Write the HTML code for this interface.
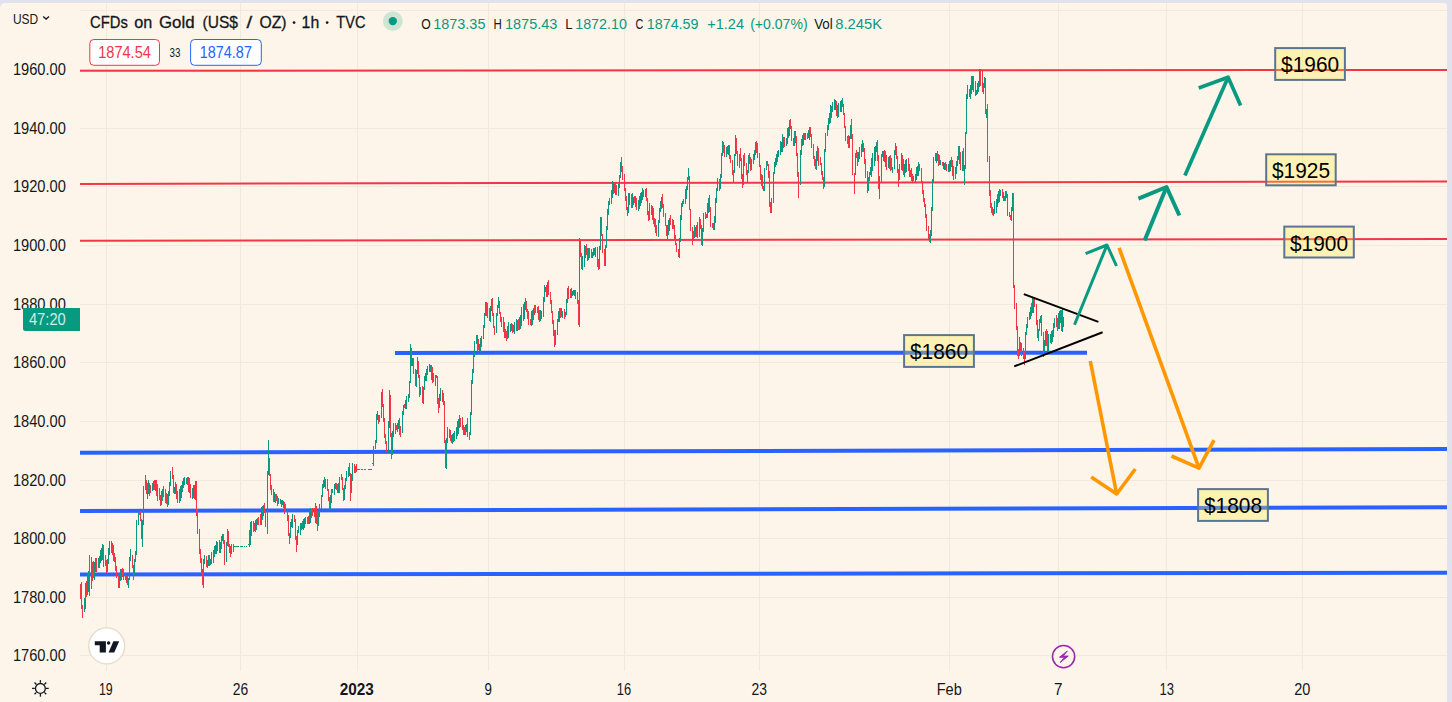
<!DOCTYPE html>
<html><head><meta charset="utf-8"><title>chart</title>
<style>
html,body{margin:0;padding:0;}
body{width:1452px;height:702px;overflow:hidden;background:#e0e3eb;font-family:"Liberation Sans", sans-serif;}
#chart{position:absolute;left:0;top:3px;width:1447px;height:699px;background:#fdf5e9;border-radius:5px 3px 0 0;}
svg{position:absolute;left:0;top:0;font-family:"Liberation Sans", sans-serif;}
</style></head><body>
<div id="chart"></div>
<svg width="1452" height="702" viewBox="0 0 1452 702">
<g shape-rendering="crispEdges" fill="#f1e9dc">
<rect x="80" y="10" width="1367" height="1"/>
<rect x="80" y="69" width="1367" height="1"/>
<rect x="80" y="128" width="1367" height="1"/>
<rect x="80" y="186" width="1367" height="1"/>
<rect x="80" y="245" width="1367" height="1"/>
<rect x="80" y="304" width="1367" height="1"/>
<rect x="80" y="362" width="1367" height="1"/>
<rect x="80" y="421" width="1367" height="1"/>
<rect x="80" y="480" width="1367" height="1"/>
<rect x="80" y="538" width="1367" height="1"/>
<rect x="80" y="597" width="1367" height="1"/>
<rect x="80" y="655" width="1367" height="1"/>
<rect x="106" y="3" width="1" height="668"/>
<rect x="240" y="3" width="1" height="668"/>
<rect x="357" y="3" width="1" height="668"/>
<rect x="488" y="3" width="1" height="668"/>
<rect x="624" y="3" width="1" height="668"/>
<rect x="759" y="3" width="1" height="668"/>
<rect x="949" y="3" width="1" height="668"/>
<rect x="1058" y="3" width="1" height="668"/>
<rect x="1166" y="3" width="1" height="668"/>
<rect x="1302" y="3" width="1" height="668"/>
</g>
<line x1="80" y1="70.8" x2="1447" y2="69.9" stroke="#f23645" stroke-width="2" stroke-linecap="butt"/>
<line x1="80" y1="183.9" x2="1447" y2="181.4" stroke="#f23645" stroke-width="2" stroke-linecap="butt"/>
<line x1="80" y1="240.8" x2="1447" y2="238.9" stroke="#f23645" stroke-width="2" stroke-linecap="butt"/>
<line x1="80" y1="452.8" x2="1447" y2="449.0" stroke="#2962ff" stroke-width="4" stroke-linecap="butt"/>
<line x1="80" y1="511.1" x2="1447" y2="507.3" stroke="#2962ff" stroke-width="4" stroke-linecap="butt"/>
<line x1="80" y1="574.6" x2="1447" y2="572.8" stroke="#2962ff" stroke-width="4" stroke-linecap="butt"/>
<line x1="395" y1="352.9" x2="1087" y2="352.7" stroke="#2962ff" stroke-width="4" stroke-linecap="butt"/>
<g shape-rendering="crispEdges">
<rect x="80" y="584.0" width="1" height="14.5" fill="#f23645"/>
<rect x="81" y="582.2" width="1" height="26.9" fill="#f23645"/>
<rect x="82" y="604.6" width="1" height="12.9" fill="#f23645"/>
<rect x="84" y="598.1" width="1" height="13.5" fill="#089981"/>
<rect x="85" y="582.5" width="1" height="26.8" fill="#089981"/>
<rect x="86" y="580.5" width="1" height="16.7" fill="#f23645"/>
<rect x="87" y="573.4" width="1" height="21.5" fill="#089981"/>
<rect x="88" y="571.4" width="1" height="20.1" fill="#089981"/>
<rect x="89" y="555.4" width="1" height="40.4" fill="#f23645"/>
<rect x="91" y="557.1" width="1" height="31.9" fill="#089981"/>
<rect x="92" y="561.8" width="1" height="18.8" fill="#f23645"/>
<rect x="93" y="561.3" width="1" height="16.7" fill="#f23645"/>
<rect x="94" y="561.6" width="1" height="18.3" fill="#089981"/>
<rect x="95" y="557.7" width="1" height="13.8" fill="#089981"/>
<rect x="96" y="557.8" width="1" height="13.8" fill="#f23645"/>
<rect x="98" y="557.6" width="1" height="10.1" fill="#089981"/>
<rect x="99" y="555.5" width="1" height="12.4" fill="#089981"/>
<rect x="100" y="549.8" width="1" height="12.8" fill="#089981"/>
<rect x="101" y="547.9" width="1" height="13.5" fill="#089981"/>
<rect x="102" y="544.4" width="1" height="15.8" fill="#089981"/>
<rect x="103" y="544.8" width="1" height="22.0" fill="#f23645"/>
<rect x="105" y="555.2" width="1" height="11.1" fill="#f23645"/>
<rect x="106" y="560.1" width="1" height="12.5" fill="#f23645"/>
<rect x="107" y="559.3" width="1" height="12.8" fill="#089981"/>
<rect x="108" y="547.7" width="1" height="16.3" fill="#089981"/>
<rect x="109" y="541.0" width="1" height="13.7" fill="#089981"/>
<rect x="111" y="540.6" width="1" height="12.0" fill="#f23645"/>
<rect x="112" y="543.4" width="1" height="11.3" fill="#f23645"/>
<rect x="113" y="545.1" width="1" height="16.0" fill="#f23645"/>
<rect x="114" y="553.3" width="1" height="8.2" fill="#f23645"/>
<rect x="115" y="557.2" width="1" height="13.7" fill="#f23645"/>
<rect x="116" y="566.3" width="1" height="11.9" fill="#f23645"/>
<rect x="118" y="575.0" width="1" height="13.2" fill="#f23645"/>
<rect x="119" y="573.0" width="1" height="14.7" fill="#089981"/>
<rect x="120" y="569.1" width="1" height="12.0" fill="#089981"/>
<rect x="121" y="569.0" width="1" height="11.2" fill="#f23645"/>
<rect x="122" y="567.6" width="1" height="9.1" fill="#f23645"/>
<rect x="123" y="569.4" width="1" height="10.8" fill="#f23645"/>
<rect x="125" y="573.2" width="1" height="6.7" fill="#089981"/>
<rect x="126" y="574.9" width="1" height="7.7" fill="#f23645"/>
<rect x="127" y="576.3" width="1" height="9.0" fill="#f23645"/>
<rect x="128" y="578.3" width="1" height="10.0" fill="#089981"/>
<rect x="129" y="556.8" width="1" height="23.3" fill="#089981"/>
<rect x="130" y="548.7" width="1" height="12.6" fill="#089981"/>
<rect x="132" y="555.4" width="1" height="12.1" fill="#f23645"/>
<rect x="133" y="565.1" width="1" height="14.5" fill="#f23645"/>
<rect x="134" y="558.8" width="1" height="16.4" fill="#089981"/>
<rect x="135" y="550.6" width="1" height="11.3" fill="#089981"/>
<rect x="136" y="520.0" width="1" height="35.3" fill="#089981"/>
<rect x="138" y="512.7" width="1" height="12.1" fill="#089981"/>
<rect x="139" y="510.6" width="1" height="4.7" fill="#f23645"/>
<rect x="140" y="510.9" width="1" height="10.3" fill="#f23645"/>
<rect x="141" y="518.5" width="1" height="20.6" fill="#f23645"/>
<rect x="142" y="520.2" width="1" height="26.7" fill="#089981"/>
<rect x="143" y="485.8" width="1" height="39.1" fill="#089981"/>
<rect x="145" y="474.6" width="1" height="14.9" fill="#089981"/>
<rect x="146" y="479.9" width="1" height="13.9" fill="#f23645"/>
<rect x="147" y="482.7" width="1" height="15.8" fill="#089981"/>
<rect x="148" y="480.2" width="1" height="13.8" fill="#089981"/>
<rect x="149" y="482.7" width="1" height="13.4" fill="#f23645"/>
<rect x="150" y="485.3" width="1" height="7.4" fill="#f23645"/>
<rect x="152" y="483.1" width="1" height="8.0" fill="#089981"/>
<rect x="153" y="481.4" width="1" height="8.6" fill="#089981"/>
<rect x="154" y="480.1" width="1" height="10.1" fill="#f23645"/>
<rect x="155" y="479.8" width="1" height="11.1" fill="#089981"/>
<rect x="156" y="479.8" width="1" height="16.5" fill="#f23645"/>
<rect x="157" y="483.8" width="1" height="16.9" fill="#f23645"/>
<rect x="159" y="488.1" width="1" height="11.6" fill="#f23645"/>
<rect x="160" y="494.7" width="1" height="11.1" fill="#f23645"/>
<rect x="161" y="491.2" width="1" height="14.0" fill="#089981"/>
<rect x="162" y="488.6" width="1" height="12.5" fill="#089981"/>
<rect x="163" y="485.9" width="1" height="10.9" fill="#f23645"/>
<rect x="165" y="488.5" width="1" height="14.8" fill="#f23645"/>
<rect x="166" y="492.6" width="1" height="11.6" fill="#f23645"/>
<rect x="167" y="493.9" width="1" height="12.6" fill="#f23645"/>
<rect x="168" y="491.1" width="1" height="14.0" fill="#089981"/>
<rect x="169" y="481.7" width="1" height="14.7" fill="#089981"/>
<rect x="170" y="470.8" width="1" height="14.9" fill="#089981"/>
<rect x="172" y="466.5" width="1" height="12.2" fill="#f23645"/>
<rect x="173" y="475.1" width="1" height="17.9" fill="#f23645"/>
<rect x="174" y="487.1" width="1" height="7.2" fill="#089981"/>
<rect x="175" y="481.7" width="1" height="12.4" fill="#089981"/>
<rect x="176" y="483.6" width="1" height="15.4" fill="#f23645"/>
<rect x="177" y="490.6" width="1" height="12.4" fill="#f23645"/>
<rect x="179" y="489.3" width="1" height="13.2" fill="#089981"/>
<rect x="180" y="485.9" width="1" height="15.0" fill="#089981"/>
<rect x="181" y="484.8" width="1" height="13.1" fill="#089981"/>
<rect x="182" y="480.5" width="1" height="11.8" fill="#089981"/>
<rect x="183" y="478.3" width="1" height="10.1" fill="#089981"/>
<rect x="184" y="476.8" width="1" height="8.6" fill="#089981"/>
<rect x="186" y="478.3" width="1" height="6.1" fill="#089981"/>
<rect x="187" y="477.4" width="1" height="7.8" fill="#089981"/>
<rect x="188" y="477.0" width="1" height="15.0" fill="#f23645"/>
<rect x="189" y="478.1" width="1" height="14.8" fill="#f23645"/>
<rect x="190" y="483.8" width="1" height="13.8" fill="#f23645"/>
<rect x="192" y="487.5" width="1" height="11.0" fill="#089981"/>
<rect x="193" y="484.9" width="1" height="13.5" fill="#089981"/>
<rect x="194" y="485.1" width="1" height="14.0" fill="#f23645"/>
<rect x="195" y="480.8" width="1" height="19.5" fill="#089981"/>
<rect x="196" y="480.8" width="1" height="35.0" fill="#f23645"/>
<rect x="197" y="509.0" width="1" height="25.2" fill="#f23645"/>
<rect x="199" y="529.2" width="1" height="24.6" fill="#f23645"/>
<rect x="200" y="549.3" width="1" height="13.3" fill="#f23645"/>
<rect x="201" y="558.1" width="1" height="15.5" fill="#f23645"/>
<rect x="202" y="569.4" width="1" height="15.2" fill="#f23645"/>
<rect x="203" y="559.2" width="1" height="28.6" fill="#089981"/>
<rect x="204" y="554.9" width="1" height="9.0" fill="#089981"/>
<rect x="206" y="555.9" width="1" height="11.3" fill="#f23645"/>
<rect x="207" y="560.4" width="1" height="7.4" fill="#089981"/>
<rect x="208" y="554.8" width="1" height="11.4" fill="#089981"/>
<rect x="209" y="554.9" width="1" height="11.1" fill="#f23645"/>
<rect x="210" y="559.3" width="1" height="5.6" fill="#089981"/>
<rect x="211" y="552.2" width="1" height="11.7" fill="#089981"/>
<rect x="213" y="550.2" width="1" height="12.4" fill="#089981"/>
<rect x="214" y="545.5" width="1" height="11.7" fill="#089981"/>
<rect x="215" y="544.7" width="1" height="9.6" fill="#089981"/>
<rect x="216" y="540.9" width="1" height="13.3" fill="#089981"/>
<rect x="217" y="541.5" width="1" height="9.0" fill="#f23645"/>
<rect x="219" y="539.8" width="1" height="13.4" fill="#f23645"/>
<rect x="220" y="542.0" width="1" height="11.0" fill="#089981"/>
<rect x="221" y="536.4" width="1" height="12.4" fill="#089981"/>
<rect x="222" y="533.7" width="1" height="7.3" fill="#089981"/>
<rect x="223" y="534.2" width="1" height="10.2" fill="#f23645"/>
<rect x="224" y="539.7" width="1" height="25.2" fill="#f23645"/>
<rect x="226" y="542.0" width="1" height="19.9" fill="#089981"/>
<rect x="227" y="529.2" width="1" height="16.3" fill="#089981"/>
<rect x="228" y="531.3" width="1" height="15.5" fill="#f23645"/>
<rect x="229" y="543.8" width="1" height="8.8" fill="#f23645"/>
<rect x="230" y="546.4" width="1" height="10.4" fill="#f23645"/>
<rect x="231" y="543.5" width="1" height="10.7" fill="#089981"/>
<rect x="233" y="543.7" width="1" height="7.8" fill="#f23645"/>
<rect x="234" y="545.5" width="1" height="1.0" fill="#089981"/>
<rect x="235" y="545.5" width="1" height="1.0" fill="#089981"/>
<rect x="236" y="545.5" width="1" height="1.0" fill="#089981"/>
<rect x="237" y="545.5" width="1" height="1.0" fill="#089981"/>
<rect x="238" y="545.5" width="1" height="1.0" fill="#089981"/>
<rect x="240" y="545.5" width="1" height="1.0" fill="#089981"/>
<rect x="241" y="545.5" width="1" height="1.0" fill="#089981"/>
<rect x="242" y="545.5" width="1" height="1.0" fill="#089981"/>
<rect x="244" y="545.5" width="1" height="1.0" fill="#089981"/>
<rect x="246" y="545.5" width="1" height="1.0" fill="#089981"/>
<rect x="248" y="544.1" width="1" height="1.0" fill="#089981"/>
<rect x="249" y="529.8" width="1" height="17.6" fill="#089981"/>
<rect x="250" y="522.0" width="1" height="23.1" fill="#089981"/>
<rect x="251" y="520.7" width="1" height="14.9" fill="#089981"/>
<rect x="253" y="521.2" width="1" height="11.2" fill="#f23645"/>
<rect x="254" y="523.2" width="1" height="7.5" fill="#f23645"/>
<rect x="255" y="520.3" width="1" height="11.4" fill="#089981"/>
<rect x="256" y="518.5" width="1" height="11.5" fill="#089981"/>
<rect x="257" y="517.5" width="1" height="7.4" fill="#f23645"/>
<rect x="258" y="517.0" width="1" height="8.4" fill="#f23645"/>
<rect x="260" y="513.5" width="1" height="11.5" fill="#f23645"/>
<rect x="261" y="507.1" width="1" height="17.7" fill="#089981"/>
<rect x="262" y="505.7" width="1" height="14.4" fill="#089981"/>
<rect x="263" y="505.2" width="1" height="11.0" fill="#089981"/>
<rect x="264" y="503.0" width="1" height="10.4" fill="#f23645"/>
<rect x="265" y="510.9" width="1" height="16.3" fill="#f23645"/>
<rect x="267" y="471.4" width="1" height="62.4" fill="#089981"/>
<rect x="268" y="440.4" width="1" height="35.0" fill="#089981"/>
<rect x="269" y="457.9" width="1" height="18.5" fill="#f23645"/>
<rect x="270" y="473.5" width="1" height="16.3" fill="#f23645"/>
<rect x="271" y="484.6" width="1" height="10.2" fill="#f23645"/>
<rect x="273" y="488.7" width="1" height="13.7" fill="#f23645"/>
<rect x="274" y="492.0" width="1" height="9.8" fill="#089981"/>
<rect x="275" y="494.4" width="1" height="8.4" fill="#089981"/>
<rect x="276" y="493.9" width="1" height="7.4" fill="#f23645"/>
<rect x="277" y="495.7" width="1" height="9.8" fill="#f23645"/>
<rect x="278" y="497.7" width="1" height="5.8" fill="#089981"/>
<rect x="280" y="498.6" width="1" height="5.2" fill="#089981"/>
<rect x="281" y="500.3" width="1" height="6.2" fill="#f23645"/>
<rect x="282" y="500.2" width="1" height="5.2" fill="#089981"/>
<rect x="283" y="500.8" width="1" height="7.1" fill="#f23645"/>
<rect x="284" y="501.8" width="1" height="11.9" fill="#f23645"/>
<rect x="285" y="504.4" width="1" height="7.6" fill="#f23645"/>
<rect x="287" y="510.2" width="1" height="10.6" fill="#f23645"/>
<rect x="288" y="514.5" width="1" height="21.0" fill="#f23645"/>
<rect x="289" y="533.0" width="1" height="10.7" fill="#f23645"/>
<rect x="290" y="522.0" width="1" height="16.3" fill="#089981"/>
<rect x="291" y="518.8" width="1" height="8.2" fill="#089981"/>
<rect x="292" y="514.2" width="1" height="13.6" fill="#089981"/>
<rect x="294" y="515.0" width="1" height="7.2" fill="#f23645"/>
<rect x="295" y="519.3" width="1" height="20.9" fill="#f23645"/>
<rect x="296" y="536.3" width="1" height="15.6" fill="#f23645"/>
<rect x="297" y="529.5" width="1" height="15.4" fill="#089981"/>
<rect x="298" y="525.7" width="1" height="7.5" fill="#089981"/>
<rect x="300" y="523.2" width="1" height="12.2" fill="#089981"/>
<rect x="301" y="523.2" width="1" height="6.4" fill="#f23645"/>
<rect x="302" y="520.5" width="1" height="8.6" fill="#089981"/>
<rect x="303" y="519.0" width="1" height="10.5" fill="#089981"/>
<rect x="304" y="517.9" width="1" height="9.8" fill="#089981"/>
<rect x="305" y="517.4" width="1" height="7.0" fill="#089981"/>
<rect x="307" y="517.4" width="1" height="6.5" fill="#f23645"/>
<rect x="308" y="515.7" width="1" height="8.3" fill="#f23645"/>
<rect x="309" y="510.8" width="1" height="12.8" fill="#089981"/>
<rect x="310" y="507.6" width="1" height="15.5" fill="#089981"/>
<rect x="311" y="509.1" width="1" height="9.2" fill="#f23645"/>
<rect x="312" y="508.0" width="1" height="8.0" fill="#f23645"/>
<rect x="314" y="507.5" width="1" height="9.4" fill="#f23645"/>
<rect x="315" y="503.3" width="1" height="19.2" fill="#089981"/>
<rect x="316" y="505.6" width="1" height="18.7" fill="#f23645"/>
<rect x="317" y="511.9" width="1" height="18.7" fill="#f23645"/>
<rect x="318" y="511.0" width="1" height="15.4" fill="#089981"/>
<rect x="319" y="504.1" width="1" height="12.5" fill="#089981"/>
<rect x="321" y="494.7" width="1" height="14.2" fill="#089981"/>
<rect x="322" y="483.8" width="1" height="12.8" fill="#089981"/>
<rect x="323" y="479.9" width="1" height="8.0" fill="#089981"/>
<rect x="324" y="476.8" width="1" height="10.1" fill="#089981"/>
<rect x="325" y="478.5" width="1" height="10.1" fill="#f23645"/>
<rect x="327" y="478.8" width="1" height="12.6" fill="#f23645"/>
<rect x="328" y="489.0" width="1" height="11.9" fill="#f23645"/>
<rect x="329" y="496.8" width="1" height="13.5" fill="#f23645"/>
<rect x="330" y="494.6" width="1" height="15.7" fill="#089981"/>
<rect x="331" y="489.2" width="1" height="14.1" fill="#089981"/>
<rect x="332" y="488.7" width="1" height="3.9" fill="#089981"/>
<rect x="334" y="484.1" width="1" height="10.6" fill="#089981"/>
<rect x="335" y="482.7" width="1" height="6.4" fill="#089981"/>
<rect x="336" y="482.7" width="1" height="7.2" fill="#f23645"/>
<rect x="337" y="484.0" width="1" height="8.6" fill="#f23645"/>
<rect x="338" y="482.5" width="1" height="10.5" fill="#089981"/>
<rect x="339" y="477.0" width="1" height="15.9" fill="#089981"/>
<rect x="341" y="473.8" width="1" height="6.4" fill="#f23645"/>
<rect x="342" y="476.7" width="1" height="13.3" fill="#f23645"/>
<rect x="343" y="488.2" width="1" height="13.1" fill="#f23645"/>
<rect x="344" y="484.9" width="1" height="15.1" fill="#089981"/>
<rect x="345" y="478.2" width="1" height="11.1" fill="#089981"/>
<rect x="346" y="471.1" width="1" height="10.3" fill="#089981"/>
<rect x="348" y="467.1" width="1" height="9.4" fill="#089981"/>
<rect x="349" y="463.3" width="1" height="12.9" fill="#f23645"/>
<rect x="350" y="472.9" width="1" height="27.9" fill="#f23645"/>
<rect x="351" y="474.2" width="1" height="18.5" fill="#089981"/>
<rect x="352" y="463.3" width="1" height="17.3" fill="#089981"/>
<rect x="354" y="464.4" width="1" height="8.5" fill="#f23645"/>
<rect x="355" y="465.7" width="1" height="7.2" fill="#f23645"/>
<rect x="356" y="463.7" width="1" height="8.6" fill="#f23645"/>
<rect x="357" y="468.7" width="1" height="1.0" fill="#089981"/>
<rect x="358" y="468.7" width="1" height="1.0" fill="#089981"/>
<rect x="359" y="468.7" width="1" height="1.0" fill="#089981"/>
<rect x="361" y="468.7" width="1" height="1.0" fill="#089981"/>
<rect x="362" y="468.7" width="1" height="1.0" fill="#089981"/>
<rect x="364" y="468.7" width="1" height="1.0" fill="#089981"/>
<rect x="365" y="468.7" width="1" height="1.0" fill="#089981"/>
<rect x="368" y="468.7" width="1" height="1.0" fill="#089981"/>
<rect x="369" y="468.7" width="1" height="1.0" fill="#089981"/>
<rect x="370" y="468.7" width="1" height="1.0" fill="#089981"/>
<rect x="371" y="468.7" width="1" height="1.0" fill="#089981"/>
<rect x="372" y="462.9" width="1" height="1.0" fill="#089981"/>
<rect x="373" y="445.7" width="1" height="20.7" fill="#089981"/>
<rect x="375" y="439.7" width="1" height="9.0" fill="#089981"/>
<rect x="376" y="414.2" width="1" height="28.8" fill="#089981"/>
<rect x="377" y="411.1" width="1" height="8.4" fill="#089981"/>
<rect x="378" y="414.5" width="1" height="9.5" fill="#f23645"/>
<rect x="379" y="414.9" width="1" height="6.6" fill="#089981"/>
<rect x="381" y="391.9" width="1" height="26.5" fill="#089981"/>
<rect x="382" y="389.2" width="1" height="17.7" fill="#f23645"/>
<rect x="383" y="404.1" width="1" height="17.6" fill="#f23645"/>
<rect x="384" y="418.2" width="1" height="19.5" fill="#f23645"/>
<rect x="385" y="433.6" width="1" height="9.9" fill="#f23645"/>
<rect x="386" y="440.7" width="1" height="11.2" fill="#f23645"/>
<rect x="388" y="420.6" width="1" height="32.3" fill="#089981"/>
<rect x="389" y="390.2" width="1" height="37.4" fill="#089981"/>
<rect x="390" y="394.7" width="1" height="42.0" fill="#f23645"/>
<rect x="391" y="433.0" width="1" height="25.5" fill="#f23645"/>
<rect x="392" y="430.8" width="1" height="23.7" fill="#089981"/>
<rect x="393" y="423.1" width="1" height="13.5" fill="#089981"/>
<rect x="395" y="423.2" width="1" height="10.8" fill="#f23645"/>
<rect x="396" y="424.5" width="1" height="5.8" fill="#f23645"/>
<rect x="397" y="422.5" width="1" height="9.4" fill="#089981"/>
<rect x="398" y="420.0" width="1" height="9.4" fill="#089981"/>
<rect x="399" y="417.7" width="1" height="16.9" fill="#f23645"/>
<rect x="400" y="425.7" width="1" height="11.4" fill="#f23645"/>
<rect x="402" y="411.2" width="1" height="22.1" fill="#089981"/>
<rect x="403" y="404.6" width="1" height="10.8" fill="#089981"/>
<rect x="404" y="404.1" width="1" height="4.1" fill="#f23645"/>
<rect x="405" y="400.2" width="1" height="8.4" fill="#089981"/>
<rect x="406" y="396.2" width="1" height="12.8" fill="#089981"/>
<rect x="408" y="393.7" width="1" height="8.0" fill="#089981"/>
<rect x="409" y="381.4" width="1" height="16.7" fill="#089981"/>
<rect x="410" y="343.9" width="1" height="39.5" fill="#089981"/>
<rect x="411" y="347.6" width="1" height="18.4" fill="#f23645"/>
<rect x="412" y="357.8" width="1" height="8.1" fill="#089981"/>
<rect x="413" y="357.5" width="1" height="16.7" fill="#f23645"/>
<rect x="415" y="369.3" width="1" height="16.4" fill="#f23645"/>
<rect x="416" y="369.6" width="1" height="17.3" fill="#089981"/>
<rect x="417" y="357.4" width="1" height="16.3" fill="#089981"/>
<rect x="418" y="360.7" width="1" height="17.7" fill="#f23645"/>
<rect x="419" y="374.8" width="1" height="22.0" fill="#f23645"/>
<rect x="420" y="386.5" width="1" height="8.5" fill="#089981"/>
<rect x="422" y="386.2" width="1" height="16.9" fill="#f23645"/>
<rect x="423" y="386.6" width="1" height="16.9" fill="#089981"/>
<rect x="424" y="376.3" width="1" height="13.6" fill="#089981"/>
<rect x="425" y="372.9" width="1" height="8.0" fill="#089981"/>
<rect x="426" y="368.8" width="1" height="12.2" fill="#089981"/>
<rect x="427" y="366.3" width="1" height="9.1" fill="#089981"/>
<rect x="429" y="364.2" width="1" height="8.1" fill="#089981"/>
<rect x="430" y="364.6" width="1" height="7.6" fill="#089981"/>
<rect x="431" y="365.0" width="1" height="14.9" fill="#f23645"/>
<rect x="432" y="366.6" width="1" height="16.3" fill="#f23645"/>
<rect x="433" y="372.8" width="1" height="9.4" fill="#089981"/>
<rect x="435" y="374.7" width="1" height="10.9" fill="#089981"/>
<rect x="436" y="375.0" width="1" height="3.1" fill="#f23645"/>
<rect x="437" y="375.6" width="1" height="28.1" fill="#f23645"/>
<rect x="438" y="398.3" width="1" height="14.3" fill="#f23645"/>
<rect x="439" y="393.8" width="1" height="13.7" fill="#089981"/>
<rect x="440" y="388.2" width="1" height="12.8" fill="#089981"/>
<rect x="442" y="389.8" width="1" height="12.2" fill="#f23645"/>
<rect x="443" y="393.4" width="1" height="11.4" fill="#f23645"/>
<rect x="444" y="400.8" width="1" height="42.6" fill="#f23645"/>
<rect x="445" y="440.4" width="1" height="28.0" fill="#f23645"/>
<rect x="446" y="438.0" width="1" height="31.0" fill="#089981"/>
<rect x="447" y="426.8" width="1" height="15.8" fill="#089981"/>
<rect x="449" y="428.7" width="1" height="9.4" fill="#f23645"/>
<rect x="450" y="430.2" width="1" height="10.3" fill="#f23645"/>
<rect x="451" y="434.7" width="1" height="8.1" fill="#f23645"/>
<rect x="452" y="434.0" width="1" height="9.8" fill="#089981"/>
<rect x="453" y="432.7" width="1" height="9.3" fill="#089981"/>
<rect x="454" y="431.2" width="1" height="9.4" fill="#089981"/>
<rect x="456" y="426.9" width="1" height="11.9" fill="#089981"/>
<rect x="457" y="421.2" width="1" height="14.9" fill="#089981"/>
<rect x="458" y="419.2" width="1" height="14.4" fill="#089981"/>
<rect x="459" y="415.0" width="1" height="13.2" fill="#089981"/>
<rect x="460" y="417.5" width="1" height="9.7" fill="#f23645"/>
<rect x="462" y="417.1" width="1" height="13.3" fill="#f23645"/>
<rect x="463" y="424.7" width="1" height="10.0" fill="#f23645"/>
<rect x="464" y="426.5" width="1" height="8.1" fill="#f23645"/>
<rect x="465" y="425.1" width="1" height="9.4" fill="#089981"/>
<rect x="466" y="423.5" width="1" height="8.4" fill="#089981"/>
<rect x="467" y="418.3" width="1" height="18.7" fill="#f23645"/>
<rect x="469" y="431.6" width="1" height="8.2" fill="#f23645"/>
<rect x="470" y="412.1" width="1" height="23.0" fill="#089981"/>
<rect x="471" y="380.1" width="1" height="34.4" fill="#089981"/>
<rect x="472" y="369.4" width="1" height="14.3" fill="#089981"/>
<rect x="473" y="352.2" width="1" height="21.0" fill="#089981"/>
<rect x="474" y="340.8" width="1" height="15.7" fill="#089981"/>
<rect x="476" y="334.7" width="1" height="8.8" fill="#089981"/>
<rect x="477" y="335.0" width="1" height="15.8" fill="#f23645"/>
<rect x="478" y="339.1" width="1" height="11.2" fill="#f23645"/>
<rect x="479" y="343.7" width="1" height="7.6" fill="#089981"/>
<rect x="480" y="337.7" width="1" height="15.0" fill="#089981"/>
<rect x="481" y="336.2" width="1" height="10.7" fill="#089981"/>
<rect x="483" y="325.4" width="1" height="13.7" fill="#089981"/>
<rect x="484" y="313.2" width="1" height="14.5" fill="#089981"/>
<rect x="485" y="302.3" width="1" height="13.7" fill="#089981"/>
<rect x="486" y="301.8" width="1" height="14.6" fill="#f23645"/>
<rect x="487" y="303.4" width="1" height="14.8" fill="#f23645"/>
<rect x="489" y="308.3" width="1" height="13.0" fill="#f23645"/>
<rect x="490" y="305.9" width="1" height="15.9" fill="#089981"/>
<rect x="491" y="298.7" width="1" height="11.8" fill="#089981"/>
<rect x="492" y="298.2" width="1" height="17.4" fill="#f23645"/>
<rect x="493" y="312.9" width="1" height="15.1" fill="#f23645"/>
<rect x="494" y="325.9" width="1" height="9.4" fill="#f23645"/>
<rect x="496" y="312.7" width="1" height="19.8" fill="#089981"/>
<rect x="497" y="304.9" width="1" height="11.0" fill="#089981"/>
<rect x="498" y="297.4" width="1" height="10.5" fill="#089981"/>
<rect x="499" y="300.7" width="1" height="13.0" fill="#f23645"/>
<rect x="500" y="311.6" width="1" height="10.5" fill="#f23645"/>
<rect x="501" y="316.7" width="1" height="9.9" fill="#f23645"/>
<rect x="503" y="316.6" width="1" height="15.5" fill="#f23645"/>
<rect x="504" y="321.9" width="1" height="15.6" fill="#f23645"/>
<rect x="505" y="329.1" width="1" height="8.9" fill="#f23645"/>
<rect x="506" y="331.1" width="1" height="10.0" fill="#f23645"/>
<rect x="507" y="326.2" width="1" height="12.5" fill="#089981"/>
<rect x="508" y="322.4" width="1" height="15.4" fill="#089981"/>
<rect x="510" y="323.8" width="1" height="8.1" fill="#089981"/>
<rect x="511" y="322.5" width="1" height="8.7" fill="#089981"/>
<rect x="512" y="323.8" width="1" height="9.1" fill="#f23645"/>
<rect x="513" y="325.2" width="1" height="6.8" fill="#f23645"/>
<rect x="514" y="322.1" width="1" height="11.8" fill="#089981"/>
<rect x="516" y="318.9" width="1" height="11.6" fill="#089981"/>
<rect x="517" y="320.4" width="1" height="10.6" fill="#f23645"/>
<rect x="518" y="319.2" width="1" height="10.6" fill="#f23645"/>
<rect x="519" y="316.5" width="1" height="13.8" fill="#089981"/>
<rect x="520" y="315.4" width="1" height="14.0" fill="#089981"/>
<rect x="521" y="306.9" width="1" height="19.3" fill="#089981"/>
<rect x="523" y="304.3" width="1" height="16.6" fill="#089981"/>
<rect x="524" y="302.3" width="1" height="16.5" fill="#089981"/>
<rect x="525" y="298.4" width="1" height="11.9" fill="#089981"/>
<rect x="526" y="300.8" width="1" height="11.5" fill="#f23645"/>
<rect x="527" y="308.9" width="1" height="9.9" fill="#f23645"/>
<rect x="528" y="311.4" width="1" height="13.8" fill="#f23645"/>
<rect x="530" y="318.9" width="1" height="5.6" fill="#f23645"/>
<rect x="531" y="310.8" width="1" height="15.0" fill="#089981"/>
<rect x="532" y="310.4" width="1" height="14.1" fill="#089981"/>
<rect x="533" y="308.3" width="1" height="11.6" fill="#089981"/>
<rect x="534" y="304.5" width="1" height="10.0" fill="#f23645"/>
<rect x="535" y="305.1" width="1" height="8.3" fill="#f23645"/>
<rect x="537" y="307.2" width="1" height="5.6" fill="#f23645"/>
<rect x="538" y="305.6" width="1" height="14.8" fill="#f23645"/>
<rect x="539" y="309.8" width="1" height="12.4" fill="#f23645"/>
<rect x="540" y="310.3" width="1" height="10.3" fill="#089981"/>
<rect x="541" y="311.0" width="1" height="7.6" fill="#089981"/>
<rect x="543" y="297.4" width="1" height="19.3" fill="#089981"/>
<rect x="544" y="284.5" width="1" height="17.8" fill="#089981"/>
<rect x="545" y="287.0" width="1" height="5.0" fill="#f23645"/>
<rect x="546" y="285.1" width="1" height="12.0" fill="#f23645"/>
<rect x="547" y="281.6" width="1" height="15.7" fill="#089981"/>
<rect x="548" y="280.1" width="1" height="15.3" fill="#f23645"/>
<rect x="550" y="292.0" width="1" height="12.0" fill="#f23645"/>
<rect x="551" y="299.7" width="1" height="13.4" fill="#f23645"/>
<rect x="552" y="310.6" width="1" height="13.6" fill="#f23645"/>
<rect x="553" y="320.2" width="1" height="15.8" fill="#f23645"/>
<rect x="554" y="330.2" width="1" height="16.4" fill="#f23645"/>
<rect x="555" y="329.7" width="1" height="14.8" fill="#089981"/>
<rect x="557" y="318.9" width="1" height="15.6" fill="#089981"/>
<rect x="558" y="310.9" width="1" height="11.4" fill="#089981"/>
<rect x="559" y="307.8" width="1" height="13.9" fill="#089981"/>
<rect x="560" y="308.4" width="1" height="9.8" fill="#f23645"/>
<rect x="561" y="308.2" width="1" height="9.1" fill="#f23645"/>
<rect x="562" y="311.1" width="1" height="7.3" fill="#089981"/>
<rect x="564" y="308.8" width="1" height="10.0" fill="#f23645"/>
<rect x="565" y="312.3" width="1" height="4.5" fill="#089981"/>
<rect x="566" y="299.0" width="1" height="15.6" fill="#089981"/>
<rect x="567" y="287.7" width="1" height="14.9" fill="#089981"/>
<rect x="568" y="286.3" width="1" height="13.1" fill="#f23645"/>
<rect x="570" y="289.0" width="1" height="9.4" fill="#f23645"/>
<rect x="571" y="288.2" width="1" height="9.4" fill="#089981"/>
<rect x="572" y="290.6" width="1" height="5.2" fill="#089981"/>
<rect x="573" y="290.4" width="1" height="4.3" fill="#f23645"/>
<rect x="574" y="289.5" width="1" height="6.9" fill="#089981"/>
<rect x="575" y="290.0" width="1" height="9.2" fill="#f23645"/>
<rect x="577" y="292.2" width="1" height="12.2" fill="#f23645"/>
<rect x="578" y="299.9" width="1" height="25.0" fill="#f23645"/>
<rect x="579" y="238.3" width="1" height="89.0" fill="#089981"/>
<rect x="580" y="239.1" width="1" height="18.1" fill="#f23645"/>
<rect x="581" y="253.4" width="1" height="15.7" fill="#f23645"/>
<rect x="582" y="256.0" width="1" height="14.1" fill="#089981"/>
<rect x="584" y="245.1" width="1" height="21.5" fill="#089981"/>
<rect x="585" y="245.6" width="1" height="12.5" fill="#089981"/>
<rect x="586" y="243.9" width="1" height="11.2" fill="#f23645"/>
<rect x="587" y="247.5" width="1" height="13.2" fill="#f23645"/>
<rect x="588" y="248.1" width="1" height="12.1" fill="#089981"/>
<rect x="589" y="248.1" width="1" height="9.5" fill="#f23645"/>
<rect x="591" y="249.3" width="1" height="9.0" fill="#f23645"/>
<rect x="592" y="251.6" width="1" height="6.3" fill="#089981"/>
<rect x="593" y="248.4" width="1" height="7.1" fill="#089981"/>
<rect x="594" y="247.8" width="1" height="7.3" fill="#089981"/>
<rect x="595" y="246.9" width="1" height="10.5" fill="#089981"/>
<rect x="597" y="246.9" width="1" height="19.6" fill="#f23645"/>
<rect x="598" y="258.7" width="1" height="11.3" fill="#f23645"/>
<rect x="599" y="245.6" width="1" height="23.1" fill="#089981"/>
<rect x="600" y="216.8" width="1" height="32.8" fill="#089981"/>
<rect x="601" y="217.3" width="1" height="18.6" fill="#f23645"/>
<rect x="602" y="233.6" width="1" height="19.1" fill="#f23645"/>
<rect x="604" y="248.9" width="1" height="17.1" fill="#f23645"/>
<rect x="605" y="244.8" width="1" height="21.3" fill="#089981"/>
<rect x="606" y="225.7" width="1" height="21.9" fill="#089981"/>
<rect x="607" y="209.1" width="1" height="20.8" fill="#089981"/>
<rect x="608" y="200.9" width="1" height="14.3" fill="#089981"/>
<rect x="609" y="198.0" width="1" height="7.3" fill="#089981"/>
<rect x="611" y="189.5" width="1" height="14.9" fill="#089981"/>
<rect x="612" y="180.9" width="1" height="17.0" fill="#089981"/>
<rect x="613" y="181.6" width="1" height="12.6" fill="#089981"/>
<rect x="614" y="182.7" width="1" height="10.3" fill="#f23645"/>
<rect x="615" y="182.2" width="1" height="12.4" fill="#f23645"/>
<rect x="616" y="185.3" width="1" height="9.6" fill="#f23645"/>
<rect x="618" y="184.1" width="1" height="11.4" fill="#089981"/>
<rect x="619" y="175.4" width="1" height="12.7" fill="#089981"/>
<rect x="620" y="161.5" width="1" height="16.9" fill="#089981"/>
<rect x="621" y="156.8" width="1" height="15.2" fill="#f23645"/>
<rect x="622" y="166.1" width="1" height="13.9" fill="#f23645"/>
<rect x="624" y="173.6" width="1" height="17.4" fill="#f23645"/>
<rect x="625" y="187.7" width="1" height="13.6" fill="#f23645"/>
<rect x="626" y="196.1" width="1" height="13.8" fill="#f23645"/>
<rect x="627" y="207.2" width="1" height="9.2" fill="#089981"/>
<rect x="628" y="192.5" width="1" height="20.0" fill="#089981"/>
<rect x="629" y="193.0" width="1" height="11.8" fill="#089981"/>
<rect x="631" y="194.0" width="1" height="14.4" fill="#f23645"/>
<rect x="632" y="192.9" width="1" height="15.5" fill="#089981"/>
<rect x="633" y="196.7" width="1" height="8.5" fill="#089981"/>
<rect x="634" y="196.3" width="1" height="6.4" fill="#f23645"/>
<rect x="635" y="195.5" width="1" height="11.4" fill="#f23645"/>
<rect x="636" y="198.3" width="1" height="11.4" fill="#f23645"/>
<rect x="638" y="199.5" width="1" height="11.8" fill="#089981"/>
<rect x="639" y="196.1" width="1" height="12.9" fill="#089981"/>
<rect x="640" y="193.1" width="1" height="13.2" fill="#089981"/>
<rect x="641" y="192.3" width="1" height="10.3" fill="#089981"/>
<rect x="642" y="187.6" width="1" height="12.2" fill="#089981"/>
<rect x="643" y="189.9" width="1" height="7.0" fill="#f23645"/>
<rect x="645" y="189.0" width="1" height="8.4" fill="#089981"/>
<rect x="646" y="187.7" width="1" height="13.2" fill="#f23645"/>
<rect x="647" y="197.9" width="1" height="16.6" fill="#f23645"/>
<rect x="648" y="211.1" width="1" height="9.6" fill="#f23645"/>
<rect x="649" y="203.0" width="1" height="17.0" fill="#089981"/>
<rect x="651" y="205.0" width="1" height="10.1" fill="#089981"/>
<rect x="652" y="205.8" width="1" height="14.3" fill="#f23645"/>
<rect x="653" y="208.0" width="1" height="16.3" fill="#f23645"/>
<rect x="654" y="217.8" width="1" height="8.9" fill="#f23645"/>
<rect x="655" y="218.8" width="1" height="14.6" fill="#f23645"/>
<rect x="656" y="225.0" width="1" height="10.8" fill="#f23645"/>
<rect x="658" y="219.8" width="1" height="17.1" fill="#089981"/>
<rect x="659" y="207.8" width="1" height="15.4" fill="#089981"/>
<rect x="660" y="201.3" width="1" height="11.0" fill="#089981"/>
<rect x="661" y="196.6" width="1" height="12.1" fill="#089981"/>
<rect x="662" y="194.3" width="1" height="13.8" fill="#f23645"/>
<rect x="663" y="204.2" width="1" height="12.6" fill="#f23645"/>
<rect x="665" y="212.9" width="1" height="13.4" fill="#f23645"/>
<rect x="666" y="224.7" width="1" height="10.8" fill="#f23645"/>
<rect x="667" y="224.8" width="1" height="13.9" fill="#089981"/>
<rect x="668" y="220.3" width="1" height="14.3" fill="#089981"/>
<rect x="669" y="217.7" width="1" height="13.7" fill="#089981"/>
<rect x="670" y="215.2" width="1" height="9.4" fill="#f23645"/>
<rect x="672" y="219.4" width="1" height="10.0" fill="#f23645"/>
<rect x="673" y="220.0" width="1" height="9.3" fill="#f23645"/>
<rect x="674" y="224.9" width="1" height="15.3" fill="#f23645"/>
<rect x="675" y="235.2" width="1" height="9.8" fill="#f23645"/>
<rect x="676" y="243.2" width="1" height="9.1" fill="#f23645"/>
<rect x="678" y="249.3" width="1" height="7.6" fill="#f23645"/>
<rect x="679" y="237.6" width="1" height="20.2" fill="#089981"/>
<rect x="680" y="214.6" width="1" height="27.5" fill="#089981"/>
<rect x="681" y="203.0" width="1" height="17.2" fill="#089981"/>
<rect x="682" y="200.5" width="1" height="6.4" fill="#089981"/>
<rect x="683" y="198.9" width="1" height="5.2" fill="#089981"/>
<rect x="685" y="188.5" width="1" height="15.3" fill="#089981"/>
<rect x="686" y="186.2" width="1" height="13.1" fill="#089981"/>
<rect x="687" y="176.6" width="1" height="13.8" fill="#089981"/>
<rect x="688" y="168.3" width="1" height="11.7" fill="#089981"/>
<rect x="689" y="176.4" width="1" height="33.8" fill="#f23645"/>
<rect x="690" y="208.7" width="1" height="22.2" fill="#f23645"/>
<rect x="692" y="227.1" width="1" height="17.8" fill="#f23645"/>
<rect x="693" y="231.2" width="1" height="9.7" fill="#089981"/>
<rect x="694" y="225.2" width="1" height="13.1" fill="#089981"/>
<rect x="695" y="226.9" width="1" height="10.3" fill="#f23645"/>
<rect x="696" y="225.1" width="1" height="12.1" fill="#f23645"/>
<rect x="697" y="221.8" width="1" height="16.5" fill="#089981"/>
<rect x="699" y="217.3" width="1" height="19.4" fill="#089981"/>
<rect x="700" y="218.6" width="1" height="10.3" fill="#f23645"/>
<rect x="701" y="225.2" width="1" height="19.8" fill="#f23645"/>
<rect x="702" y="228.3" width="1" height="17.5" fill="#089981"/>
<rect x="703" y="212.8" width="1" height="18.9" fill="#089981"/>
<rect x="705" y="211.9" width="1" height="7.5" fill="#f23645"/>
<rect x="706" y="214.0" width="1" height="3.9" fill="#f23645"/>
<rect x="707" y="203.2" width="1" height="15.1" fill="#089981"/>
<rect x="708" y="198.2" width="1" height="14.5" fill="#089981"/>
<rect x="709" y="195.3" width="1" height="16.2" fill="#f23645"/>
<rect x="710" y="206.8" width="1" height="19.9" fill="#f23645"/>
<rect x="712" y="222.9" width="1" height="5.0" fill="#f23645"/>
<rect x="713" y="222.7" width="1" height="7.7" fill="#089981"/>
<rect x="714" y="215.8" width="1" height="14.6" fill="#089981"/>
<rect x="715" y="197.7" width="1" height="24.8" fill="#089981"/>
<rect x="716" y="187.5" width="1" height="15.7" fill="#089981"/>
<rect x="717" y="177.7" width="1" height="13.6" fill="#089981"/>
<rect x="719" y="178.9" width="1" height="11.6" fill="#f23645"/>
<rect x="720" y="174.3" width="1" height="15.0" fill="#089981"/>
<rect x="721" y="152.6" width="1" height="24.9" fill="#089981"/>
<rect x="722" y="141.1" width="1" height="15.3" fill="#089981"/>
<rect x="723" y="142.3" width="1" height="10.2" fill="#f23645"/>
<rect x="724" y="144.5" width="1" height="12.1" fill="#f23645"/>
<rect x="726" y="146.9" width="1" height="10.2" fill="#089981"/>
<rect x="727" y="145.9" width="1" height="8.1" fill="#089981"/>
<rect x="728" y="144.5" width="1" height="10.6" fill="#089981"/>
<rect x="729" y="145.3" width="1" height="13.8" fill="#f23645"/>
<rect x="730" y="154.9" width="1" height="7.9" fill="#f23645"/>
<rect x="732" y="160.2" width="1" height="15.1" fill="#f23645"/>
<rect x="733" y="170.1" width="1" height="12.1" fill="#f23645"/>
<rect x="734" y="153.5" width="1" height="19.8" fill="#089981"/>
<rect x="735" y="134.6" width="1" height="21.8" fill="#089981"/>
<rect x="736" y="138.4" width="1" height="15.7" fill="#f23645"/>
<rect x="737" y="150.5" width="1" height="15.8" fill="#f23645"/>
<rect x="739" y="154.4" width="1" height="13.1" fill="#089981"/>
<rect x="740" y="148.2" width="1" height="13.2" fill="#f23645"/>
<rect x="741" y="158.1" width="1" height="20.6" fill="#f23645"/>
<rect x="742" y="173.5" width="1" height="14.4" fill="#f23645"/>
<rect x="743" y="155.1" width="1" height="29.6" fill="#089981"/>
<rect x="744" y="153.1" width="1" height="13.3" fill="#f23645"/>
<rect x="746" y="163.4" width="1" height="12.0" fill="#f23645"/>
<rect x="747" y="169.5" width="1" height="12.7" fill="#089981"/>
<rect x="748" y="155.2" width="1" height="18.0" fill="#089981"/>
<rect x="749" y="153.0" width="1" height="11.0" fill="#f23645"/>
<rect x="750" y="156.6" width="1" height="14.2" fill="#f23645"/>
<rect x="751" y="158.5" width="1" height="11.8" fill="#089981"/>
<rect x="753" y="153.5" width="1" height="10.9" fill="#089981"/>
<rect x="754" y="149.6" width="1" height="10.4" fill="#089981"/>
<rect x="755" y="142.0" width="1" height="13.0" fill="#089981"/>
<rect x="756" y="140.8" width="1" height="12.0" fill="#f23645"/>
<rect x="757" y="143.0" width="1" height="15.2" fill="#f23645"/>
<rect x="759" y="153.3" width="1" height="13.8" fill="#f23645"/>
<rect x="760" y="165.1" width="1" height="14.4" fill="#f23645"/>
<rect x="761" y="174.3" width="1" height="12.1" fill="#f23645"/>
<rect x="762" y="174.8" width="1" height="14.5" fill="#f23645"/>
<rect x="763" y="186.2" width="1" height="4.3" fill="#f23645"/>
<rect x="764" y="168.0" width="1" height="23.2" fill="#089981"/>
<rect x="766" y="161.1" width="1" height="9.2" fill="#089981"/>
<rect x="767" y="160.6" width="1" height="5.5" fill="#f23645"/>
<rect x="768" y="163.7" width="1" height="13.8" fill="#f23645"/>
<rect x="769" y="171.3" width="1" height="35.4" fill="#f23645"/>
<rect x="770" y="202.2" width="1" height="10.7" fill="#f23645"/>
<rect x="771" y="198.3" width="1" height="14.4" fill="#089981"/>
<rect x="773" y="172.1" width="1" height="30.5" fill="#089981"/>
<rect x="774" y="161.9" width="1" height="12.1" fill="#089981"/>
<rect x="775" y="158.1" width="1" height="8.4" fill="#089981"/>
<rect x="776" y="154.0" width="1" height="11.3" fill="#089981"/>
<rect x="777" y="151.1" width="1" height="11.0" fill="#089981"/>
<rect x="778" y="150.0" width="1" height="7.4" fill="#089981"/>
<rect x="780" y="141.1" width="1" height="13.6" fill="#089981"/>
<rect x="781" y="141.7" width="1" height="10.6" fill="#089981"/>
<rect x="782" y="134.4" width="1" height="17.3" fill="#089981"/>
<rect x="783" y="136.5" width="1" height="11.4" fill="#f23645"/>
<rect x="784" y="136.6" width="1" height="9.9" fill="#f23645"/>
<rect x="786" y="138.1" width="1" height="7.9" fill="#089981"/>
<rect x="787" y="128.0" width="1" height="15.9" fill="#089981"/>
<rect x="788" y="127.4" width="1" height="10.1" fill="#089981"/>
<rect x="789" y="120.0" width="1" height="15.6" fill="#089981"/>
<rect x="790" y="119.0" width="1" height="9.5" fill="#f23645"/>
<rect x="791" y="125.9" width="1" height="15.5" fill="#f23645"/>
<rect x="793" y="137.9" width="1" height="7.8" fill="#089981"/>
<rect x="794" y="130.5" width="1" height="15.6" fill="#089981"/>
<rect x="795" y="130.8" width="1" height="11.9" fill="#f23645"/>
<rect x="796" y="136.3" width="1" height="19.7" fill="#f23645"/>
<rect x="797" y="153.3" width="1" height="23.8" fill="#f23645"/>
<rect x="798" y="171.6" width="1" height="26.0" fill="#f23645"/>
<rect x="800" y="150.4" width="1" height="34.5" fill="#089981"/>
<rect x="801" y="139.3" width="1" height="15.6" fill="#089981"/>
<rect x="802" y="134.5" width="1" height="11.4" fill="#089981"/>
<rect x="803" y="133.1" width="1" height="11.4" fill="#089981"/>
<rect x="804" y="132.7" width="1" height="7.5" fill="#f23645"/>
<rect x="805" y="132.5" width="1" height="7.2" fill="#089981"/>
<rect x="807" y="132.7" width="1" height="6.6" fill="#f23645"/>
<rect x="808" y="129.9" width="1" height="7.9" fill="#089981"/>
<rect x="809" y="126.9" width="1" height="13.4" fill="#089981"/>
<rect x="810" y="126.9" width="1" height="9.6" fill="#f23645"/>
<rect x="811" y="133.6" width="1" height="14.2" fill="#f23645"/>
<rect x="813" y="144.1" width="1" height="15.3" fill="#f23645"/>
<rect x="814" y="156.1" width="1" height="9.7" fill="#f23645"/>
<rect x="815" y="159.4" width="1" height="9.9" fill="#f23645"/>
<rect x="816" y="151.0" width="1" height="19.3" fill="#089981"/>
<rect x="817" y="145.9" width="1" height="15.2" fill="#089981"/>
<rect x="818" y="147.5" width="1" height="18.3" fill="#f23645"/>
<rect x="820" y="156.5" width="1" height="8.6" fill="#f23645"/>
<rect x="821" y="163.3" width="1" height="11.4" fill="#f23645"/>
<rect x="822" y="170.7" width="1" height="9.4" fill="#f23645"/>
<rect x="823" y="176.6" width="1" height="11.9" fill="#f23645"/>
<rect x="824" y="149.0" width="1" height="38.3" fill="#089981"/>
<rect x="825" y="132.6" width="1" height="19.7" fill="#089981"/>
<rect x="827" y="124.8" width="1" height="11.0" fill="#089981"/>
<rect x="828" y="117.6" width="1" height="12.0" fill="#089981"/>
<rect x="829" y="112.7" width="1" height="11.0" fill="#089981"/>
<rect x="830" y="104.7" width="1" height="17.8" fill="#089981"/>
<rect x="831" y="106.2" width="1" height="11.6" fill="#f23645"/>
<rect x="832" y="102.2" width="1" height="10.1" fill="#089981"/>
<rect x="834" y="98.7" width="1" height="11.0" fill="#089981"/>
<rect x="835" y="100.0" width="1" height="10.3" fill="#089981"/>
<rect x="836" y="100.5" width="1" height="15.4" fill="#f23645"/>
<rect x="837" y="105.4" width="1" height="12.1" fill="#089981"/>
<rect x="838" y="102.8" width="1" height="14.3" fill="#089981"/>
<rect x="840" y="101.0" width="1" height="11.2" fill="#089981"/>
<rect x="841" y="99.7" width="1" height="12.2" fill="#f23645"/>
<rect x="842" y="98.3" width="1" height="8.4" fill="#089981"/>
<rect x="843" y="103.8" width="1" height="10.9" fill="#f23645"/>
<rect x="844" y="112.9" width="1" height="15.5" fill="#f23645"/>
<rect x="845" y="126.2" width="1" height="14.3" fill="#f23645"/>
<rect x="847" y="136.3" width="1" height="7.3" fill="#f23645"/>
<rect x="848" y="135.0" width="1" height="13.1" fill="#f23645"/>
<rect x="849" y="136.3" width="1" height="11.7" fill="#089981"/>
<rect x="850" y="124.9" width="1" height="13.7" fill="#089981"/>
<rect x="851" y="119.3" width="1" height="19.2" fill="#f23645"/>
<rect x="852" y="133.7" width="1" height="41.7" fill="#f23645"/>
<rect x="854" y="172.5" width="1" height="21.6" fill="#f23645"/>
<rect x="855" y="152.6" width="1" height="22.7" fill="#089981"/>
<rect x="856" y="150.2" width="1" height="7.3" fill="#f23645"/>
<rect x="857" y="151.5" width="1" height="14.8" fill="#f23645"/>
<rect x="858" y="152.2" width="1" height="9.5" fill="#089981"/>
<rect x="859" y="146.8" width="1" height="12.1" fill="#089981"/>
<rect x="861" y="144.4" width="1" height="12.7" fill="#089981"/>
<rect x="862" y="140.2" width="1" height="11.8" fill="#089981"/>
<rect x="863" y="142.7" width="1" height="9.6" fill="#f23645"/>
<rect x="864" y="147.8" width="1" height="16.2" fill="#f23645"/>
<rect x="865" y="158.8" width="1" height="19.3" fill="#f23645"/>
<rect x="867" y="171.2" width="1" height="21.5" fill="#f23645"/>
<rect x="868" y="177.1" width="1" height="14.1" fill="#089981"/>
<rect x="869" y="172.1" width="1" height="8.8" fill="#089981"/>
<rect x="870" y="167.3" width="1" height="7.6" fill="#089981"/>
<rect x="871" y="157.5" width="1" height="19.3" fill="#089981"/>
<rect x="872" y="153.2" width="1" height="17.9" fill="#089981"/>
<rect x="874" y="147.1" width="1" height="19.0" fill="#089981"/>
<rect x="875" y="145.9" width="1" height="15.3" fill="#089981"/>
<rect x="876" y="141.9" width="1" height="9.8" fill="#089981"/>
<rect x="877" y="139.6" width="1" height="21.8" fill="#f23645"/>
<rect x="878" y="155.3" width="1" height="33.9" fill="#f23645"/>
<rect x="879" y="175.5" width="1" height="23.7" fill="#089981"/>
<rect x="881" y="154.0" width="1" height="28.2" fill="#089981"/>
<rect x="882" y="151.4" width="1" height="5.7" fill="#089981"/>
<rect x="883" y="150.9" width="1" height="10.0" fill="#089981"/>
<rect x="884" y="150.2" width="1" height="11.7" fill="#f23645"/>
<rect x="885" y="150.9" width="1" height="16.5" fill="#f23645"/>
<rect x="886" y="155.0" width="1" height="15.3" fill="#f23645"/>
<rect x="888" y="156.6" width="1" height="11.8" fill="#089981"/>
<rect x="889" y="155.9" width="1" height="13.5" fill="#089981"/>
<rect x="890" y="154.9" width="1" height="15.6" fill="#f23645"/>
<rect x="891" y="157.7" width="1" height="12.0" fill="#f23645"/>
<rect x="892" y="166.5" width="1" height="6.1" fill="#089981"/>
<rect x="894" y="150.0" width="1" height="18.8" fill="#089981"/>
<rect x="895" y="143.1" width="1" height="11.5" fill="#089981"/>
<rect x="896" y="145.6" width="1" height="13.2" fill="#f23645"/>
<rect x="897" y="155.5" width="1" height="17.6" fill="#f23645"/>
<rect x="898" y="169.0" width="1" height="18.0" fill="#f23645"/>
<rect x="899" y="164.4" width="1" height="15.5" fill="#089981"/>
<rect x="901" y="153.3" width="1" height="16.5" fill="#089981"/>
<rect x="902" y="155.0" width="1" height="16.2" fill="#f23645"/>
<rect x="903" y="159.3" width="1" height="15.9" fill="#f23645"/>
<rect x="904" y="163.6" width="1" height="12.9" fill="#089981"/>
<rect x="905" y="160.2" width="1" height="13.1" fill="#089981"/>
<rect x="906" y="158.5" width="1" height="13.6" fill="#089981"/>
<rect x="908" y="158.0" width="1" height="12.7" fill="#f23645"/>
<rect x="909" y="164.2" width="1" height="12.7" fill="#f23645"/>
<rect x="910" y="169.8" width="1" height="7.4" fill="#f23645"/>
<rect x="911" y="168.0" width="1" height="13.3" fill="#f23645"/>
<rect x="912" y="174.3" width="1" height="8.0" fill="#f23645"/>
<rect x="913" y="176.1" width="1" height="5.3" fill="#089981"/>
<rect x="915" y="173.9" width="1" height="8.7" fill="#089981"/>
<rect x="916" y="167.3" width="1" height="12.4" fill="#089981"/>
<rect x="917" y="165.7" width="1" height="10.1" fill="#089981"/>
<rect x="918" y="162.2" width="1" height="13.7" fill="#089981"/>
<rect x="919" y="164.2" width="1" height="6.7" fill="#f23645"/>
<rect x="921" y="167.5" width="1" height="15.6" fill="#f23645"/>
<rect x="922" y="180.7" width="1" height="13.0" fill="#f23645"/>
<rect x="923" y="190.3" width="1" height="11.4" fill="#f23645"/>
<rect x="924" y="198.3" width="1" height="9.0" fill="#f23645"/>
<rect x="925" y="203.9" width="1" height="14.3" fill="#f23645"/>
<rect x="926" y="214.3" width="1" height="16.3" fill="#f23645"/>
<rect x="928" y="226.0" width="1" height="12.8" fill="#f23645"/>
<rect x="929" y="234.0" width="1" height="7.9" fill="#f23645"/>
<rect x="930" y="230.1" width="1" height="12.8" fill="#089981"/>
<rect x="931" y="207.1" width="1" height="28.5" fill="#089981"/>
<rect x="932" y="179.3" width="1" height="31.7" fill="#089981"/>
<rect x="933" y="156.5" width="1" height="26.0" fill="#089981"/>
<rect x="935" y="152.8" width="1" height="7.9" fill="#089981"/>
<rect x="936" y="153.1" width="1" height="10.2" fill="#089981"/>
<rect x="937" y="150.6" width="1" height="9.9" fill="#f23645"/>
<rect x="938" y="153.6" width="1" height="12.3" fill="#f23645"/>
<rect x="939" y="155.4" width="1" height="9.7" fill="#f23645"/>
<rect x="940" y="160.2" width="1" height="5.1" fill="#089981"/>
<rect x="942" y="161.5" width="1" height="4.9" fill="#f23645"/>
<rect x="943" y="161.9" width="1" height="7.5" fill="#089981"/>
<rect x="944" y="163.1" width="1" height="7.2" fill="#089981"/>
<rect x="945" y="161.9" width="1" height="7.8" fill="#f23645"/>
<rect x="946" y="163.7" width="1" height="7.5" fill="#f23645"/>
<rect x="948" y="164.3" width="1" height="7.7" fill="#089981"/>
<rect x="949" y="160.7" width="1" height="11.2" fill="#089981"/>
<rect x="950" y="159.9" width="1" height="11.0" fill="#089981"/>
<rect x="951" y="157.2" width="1" height="9.4" fill="#f23645"/>
<rect x="952" y="160.0" width="1" height="16.0" fill="#f23645"/>
<rect x="953" y="166.0" width="1" height="13.8" fill="#f23645"/>
<rect x="955" y="167.0" width="1" height="11.8" fill="#089981"/>
<rect x="956" y="161.1" width="1" height="12.9" fill="#089981"/>
<rect x="957" y="155.8" width="1" height="10.5" fill="#089981"/>
<rect x="958" y="146.1" width="1" height="13.9" fill="#089981"/>
<rect x="959" y="145.9" width="1" height="18.3" fill="#f23645"/>
<rect x="960" y="151.8" width="1" height="17.9" fill="#f23645"/>
<rect x="962" y="150.5" width="1" height="20.3" fill="#089981"/>
<rect x="963" y="148.2" width="1" height="23.0" fill="#f23645"/>
<rect x="964" y="164.7" width="1" height="19.8" fill="#089981"/>
<rect x="965" y="131.9" width="1" height="36.7" fill="#089981"/>
<rect x="966" y="93.6" width="1" height="40.8" fill="#089981"/>
<rect x="967" y="85.1" width="1" height="13.8" fill="#089981"/>
<rect x="969" y="89.4" width="1" height="7.9" fill="#f23645"/>
<rect x="970" y="85.1" width="1" height="14.0" fill="#089981"/>
<rect x="971" y="76.3" width="1" height="17.6" fill="#089981"/>
<rect x="972" y="75.6" width="1" height="14.6" fill="#089981"/>
<rect x="973" y="75.5" width="1" height="16.5" fill="#f23645"/>
<rect x="975" y="80.8" width="1" height="15.4" fill="#f23645"/>
<rect x="976" y="89.8" width="1" height="4.9" fill="#089981"/>
<rect x="977" y="83.4" width="1" height="10.9" fill="#089981"/>
<rect x="978" y="81.4" width="1" height="10.9" fill="#089981"/>
<rect x="979" y="69.4" width="1" height="17.6" fill="#089981"/>
<rect x="980" y="69.0" width="1" height="16.9" fill="#f23645"/>
<rect x="982" y="70.4" width="1" height="21.8" fill="#f23645"/>
<rect x="983" y="83.1" width="1" height="10.7" fill="#089981"/>
<rect x="984" y="77.4" width="1" height="10.2" fill="#089981"/>
<rect x="985" y="77.8" width="1" height="35.7" fill="#f23645"/>
<rect x="986" y="109.1" width="1" height="8.4" fill="#089981"/>
<rect x="987" y="104.0" width="1" height="57.6" fill="#f23645"/>
<rect x="989" y="156.2" width="1" height="39.4" fill="#f23645"/>
<rect x="990" y="190.4" width="1" height="17.2" fill="#f23645"/>
<rect x="991" y="203.0" width="1" height="9.6" fill="#f23645"/>
<rect x="992" y="206.5" width="1" height="8.4" fill="#f23645"/>
<rect x="993" y="208.8" width="1" height="7.6" fill="#089981"/>
<rect x="994" y="201.0" width="1" height="13.1" fill="#089981"/>
<rect x="996" y="198.8" width="1" height="14.3" fill="#089981"/>
<rect x="997" y="193.5" width="1" height="13.5" fill="#089981"/>
<rect x="998" y="190.5" width="1" height="12.5" fill="#089981"/>
<rect x="999" y="189.2" width="1" height="12.8" fill="#089981"/>
<rect x="1000" y="190.1" width="1" height="6.2" fill="#089981"/>
<rect x="1002" y="188.7" width="1" height="8.9" fill="#f23645"/>
<rect x="1003" y="191.9" width="1" height="9.0" fill="#f23645"/>
<rect x="1004" y="195.5" width="1" height="5.6" fill="#089981"/>
<rect x="1005" y="190.7" width="1" height="10.1" fill="#089981"/>
<rect x="1006" y="190.5" width="1" height="7.0" fill="#089981"/>
<rect x="1007" y="193.5" width="1" height="22.3" fill="#f23645"/>
<rect x="1009" y="211.8" width="1" height="5.6" fill="#f23645"/>
<rect x="1010" y="214.9" width="1" height="5.2" fill="#f23645"/>
<rect x="1011" y="206.8" width="1" height="13.8" fill="#089981"/>
<rect x="1012" y="192.9" width="1" height="17.9" fill="#089981"/>
<rect x="1013" y="193.4" width="1" height="95.0" fill="#f23645"/>
<rect x="1014" y="285.1" width="1" height="23.7" fill="#f23645"/>
<rect x="1016" y="303.3" width="1" height="26.6" fill="#f23645"/>
<rect x="1017" y="325.8" width="1" height="29.7" fill="#f23645"/>
<rect x="1018" y="348.5" width="1" height="10.7" fill="#f23645"/>
<rect x="1019" y="336.8" width="1" height="19.3" fill="#089981"/>
<rect x="1020" y="342.2" width="1" height="9.8" fill="#f23645"/>
<rect x="1021" y="342.8" width="1" height="12.9" fill="#f23645"/>
<rect x="1023" y="348.1" width="1" height="10.7" fill="#f23645"/>
<rect x="1024" y="352.4" width="1" height="12.7" fill="#f23645"/>
<rect x="1025" y="332.0" width="1" height="27.4" fill="#089981"/>
<rect x="1026" y="324.2" width="1" height="11.1" fill="#089981"/>
<rect x="1027" y="316.6" width="1" height="11.1" fill="#089981"/>
<rect x="1029" y="312.4" width="1" height="7.3" fill="#089981"/>
<rect x="1030" y="307.3" width="1" height="11.3" fill="#089981"/>
<rect x="1031" y="303.0" width="1" height="12.9" fill="#f23645"/>
<rect x="1032" y="297.5" width="1" height="15.6" fill="#089981"/>
<rect x="1033" y="298.6" width="1" height="14.0" fill="#089981"/>
<rect x="1034" y="298.5" width="1" height="8.7" fill="#f23645"/>
<rect x="1036" y="303.9" width="1" height="21.4" fill="#f23645"/>
<rect x="1037" y="319.6" width="1" height="18.8" fill="#f23645"/>
<rect x="1038" y="328.6" width="1" height="11.9" fill="#089981"/>
<rect x="1039" y="319.1" width="1" height="11.5" fill="#089981"/>
<rect x="1040" y="316.2" width="1" height="6.9" fill="#089981"/>
<rect x="1041" y="314.6" width="1" height="20.9" fill="#f23645"/>
<rect x="1043" y="331.9" width="1" height="24.6" fill="#f23645"/>
<rect x="1044" y="340.4" width="1" height="12.0" fill="#089981"/>
<rect x="1045" y="330.5" width="1" height="15.7" fill="#089981"/>
<rect x="1046" y="329.4" width="1" height="17.0" fill="#f23645"/>
<rect x="1047" y="330.6" width="1" height="20.1" fill="#f23645"/>
<rect x="1048" y="333.8" width="1" height="18.5" fill="#089981"/>
<rect x="1050" y="334.2" width="1" height="9.1" fill="#089981"/>
<rect x="1051" y="330.5" width="1" height="13.0" fill="#f23645"/>
<rect x="1052" y="329.6" width="1" height="12.6" fill="#089981"/>
<rect x="1053" y="322.7" width="1" height="14.4" fill="#089981"/>
<rect x="1054" y="317.9" width="1" height="9.9" fill="#089981"/>
<rect x="1056" y="315.1" width="1" height="11.6" fill="#f23645"/>
<rect x="1057" y="318.1" width="1" height="12.7" fill="#f23645"/>
<rect x="1058" y="313.4" width="1" height="15.8" fill="#089981"/>
<rect x="1059" y="310.7" width="1" height="18.3" fill="#089981"/>
<rect x="1060" y="309.8" width="1" height="12.9" fill="#089981"/>
<rect x="1013" y="196" width="1" height="88" fill="#f23645"/>
<rect x="1061" y="309.5" width="1" height="21" fill="#f23645"/>
<rect x="1062" y="309" width="1" height="23" fill="#089981"/>
<rect x="1063" y="317" width="1" height="10" fill="#089981"/>
</g>
<line x1="1023.8" y1="294.1" x2="1098.4" y2="321.9" stroke="#000" stroke-width="2" stroke-linecap="butt"/>
<line x1="1014.2" y1="366.4" x2="1102.6" y2="332.2" stroke="#000" stroke-width="2" stroke-linecap="butt"/>
<g stroke="#089981" stroke-width="3.0" fill="none" stroke-linecap="butt" stroke-linejoin="round">
<line x1="1074.5" y1="324.8" x2="1107.0" y2="245.0"/>
<polyline points="1085.6,253.6 1107.0,245.0 1116.5,266.0"/>
</g>
<g stroke="#089981" stroke-width="4.0" fill="none" stroke-linecap="butt" stroke-linejoin="round">
<line x1="1144.6" y1="240.6" x2="1166.5" y2="187.0"/>
<polyline points="1138.4,198.6 1166.5,187.0 1179.4,215.5"/>
</g>
<g stroke="#089981" stroke-width="3.7" fill="none" stroke-linecap="butt" stroke-linejoin="round">
<line x1="1184.9" y1="175.4" x2="1228.1" y2="77.2"/>
<polyline points="1198.7,88.0 1228.1,77.2 1240.6,105.5"/>
</g>
<g stroke="#ff9800" stroke-width="3.6" fill="none" stroke-linecap="butt" stroke-linejoin="round">
<line x1="1119.1" y1="247.9" x2="1199.0" y2="468.2"/>
<polyline points="1171.5,456.0 1199.0,468.2 1214.0,440.2"/>
</g>
<g stroke="#ff9800" stroke-width="3.6" fill="none" stroke-linecap="butt" stroke-linejoin="round">
<line x1="1090.3" y1="361.0" x2="1116.7" y2="494.0"/>
<polyline points="1091.2,476.9 1116.7,494.0 1135.3,469.0"/>
</g>
<rect x="1275.2" y="48.1" width="69.70000000000005" height="31.800000000000004" fill="rgba(255,235,59,0.3)" stroke="#5b7590" stroke-width="2"/>
<text x="1281.1" y="72.0" font-size="22.2" fill="#000" textLength="58" lengthAdjust="spacingAndGlyphs">$1960</text>
<rect x="1266.2" y="154.3" width="69.5" height="31.0" fill="rgba(255,235,59,0.3)" stroke="#5b7590" stroke-width="2"/>
<text x="1272.0" y="178.2" font-size="22.2" fill="#000" textLength="58" lengthAdjust="spacingAndGlyphs">$1925</text>
<rect x="1284.3" y="226.6" width="69.5" height="30.900000000000006" fill="rgba(255,235,59,0.3)" stroke="#5b7590" stroke-width="2"/>
<text x="1290.0" y="250.5" font-size="22.2" fill="#000" textLength="58" lengthAdjust="spacingAndGlyphs">$1900</text>
<rect x="904.1" y="335.1" width="69.79999999999995" height="31.799999999999955" fill="rgba(255,235,59,0.3)" stroke="#5b7590" stroke-width="2"/>
<text x="910.0" y="359.0" font-size="22.2" fill="#000" textLength="58" lengthAdjust="spacingAndGlyphs">$1860</text>
<rect x="1198.1" y="489.1" width="69.80000000000018" height="31.799999999999955" fill="rgba(255,235,59,0.3)" stroke="#5b7590" stroke-width="2"/>
<text x="1204.0" y="513.0" font-size="22.2" fill="#000" textLength="58" lengthAdjust="spacingAndGlyphs">$1808</text>
<text x="12.9" y="661.1" font-size="15.9" fill="#131722" font-weight="normal" textLength="53.0" lengthAdjust="spacingAndGlyphs">1760.00</text>
<text x="12.9" y="603.1" font-size="15.9" fill="#131722" font-weight="normal" textLength="53.0" lengthAdjust="spacingAndGlyphs">1780.00</text>
<text x="12.9" y="544.1" font-size="15.9" fill="#131722" font-weight="normal" textLength="53.0" lengthAdjust="spacingAndGlyphs">1800.00</text>
<text x="12.9" y="486.1" font-size="15.9" fill="#131722" font-weight="normal" textLength="53.0" lengthAdjust="spacingAndGlyphs">1820.00</text>
<text x="12.9" y="427.1" font-size="15.9" fill="#131722" font-weight="normal" textLength="53.0" lengthAdjust="spacingAndGlyphs">1840.00</text>
<text x="12.9" y="368.1" font-size="15.9" fill="#131722" font-weight="normal" textLength="53.0" lengthAdjust="spacingAndGlyphs">1860.00</text>
<text x="12.9" y="310.1" font-size="15.9" fill="#131722" font-weight="normal" textLength="53.0" lengthAdjust="spacingAndGlyphs">1880.00</text>
<text x="12.9" y="251.1" font-size="15.9" fill="#131722" font-weight="normal" textLength="53.0" lengthAdjust="spacingAndGlyphs">1900.00</text>
<text x="12.9" y="192.1" font-size="15.9" fill="#131722" font-weight="normal" textLength="53.0" lengthAdjust="spacingAndGlyphs">1920.00</text>
<text x="12.9" y="134.1" font-size="15.9" fill="#131722" font-weight="normal" textLength="53.0" lengthAdjust="spacingAndGlyphs">1940.00</text>
<text x="12.9" y="75.1" font-size="15.9" fill="#131722" font-weight="normal" textLength="53.0" lengthAdjust="spacingAndGlyphs">1960.00</text>
<path d="M23 308 H80 V331 H25.5 Q23 331 23 328.5 Z" fill="#089981"/>
<text x="28.9" y="324.7" font-size="15.7" fill="#cdeee7" font-weight="normal" textLength="36.9" lengthAdjust="spacingAndGlyphs">47:20</text>
<text x="12.9" y="23.6" font-size="15" fill="#131722" font-weight="normal" textLength="25.2" lengthAdjust="spacingAndGlyphs">USD</text>
<polyline points="43.2,16.6 46.1,19.1 49,16.6" fill="none" stroke="#131722" stroke-width="1.3"/>
<text x="90.0" y="27.7" font-size="17.3" fill="#131722" stroke="#131722" stroke-width="0.3" textLength="37.8" lengthAdjust="spacingAndGlyphs">CFDs</text>
<text x="134.2" y="27.7" font-size="17.3" fill="#131722" stroke="#131722" stroke-width="0.3" textLength="18.0" lengthAdjust="spacingAndGlyphs">on</text>
<text x="159.0" y="27.7" font-size="17.3" fill="#131722" stroke="#131722" stroke-width="0.3" textLength="35.6" lengthAdjust="spacingAndGlyphs">Gold</text>
<text x="202.6" y="27.7" font-size="17.3" fill="#131722" stroke="#131722" stroke-width="0.3" textLength="35.4" lengthAdjust="spacingAndGlyphs">(US$</text>
<text x="246.6" y="27.7" font-size="17.3" fill="#131722" stroke="#131722" stroke-width="0.3" textLength="5.7" lengthAdjust="spacingAndGlyphs">/</text>
<text x="259.4" y="27.7" font-size="17.3" fill="#131722" stroke="#131722" stroke-width="0.3" textLength="27.1" lengthAdjust="spacingAndGlyphs">OZ)</text>
<text x="301.6" y="27.7" font-size="17.3" fill="#131722" stroke="#131722" stroke-width="0.3" textLength="17.6" lengthAdjust="spacingAndGlyphs">1h</text>
<text x="336.3" y="27.7" font-size="17.3" fill="#131722" stroke="#131722" stroke-width="0.3" textLength="29.1" lengthAdjust="spacingAndGlyphs">TVC</text>
<circle cx="294.05" cy="22.6" r="1.35" fill="#131722"/>
<circle cx="327.15" cy="22.6" r="1.35" fill="#131722"/>
<circle cx="392.8" cy="21.1" r="9.9" fill="#089981" fill-opacity="0.18"/>
<circle cx="392.8" cy="21.1" r="4.2" fill="#089981"/>
<text x="421.2" y="28.9" font-size="15.4" fill="#131722" font-weight="normal" textLength="9.5" lengthAdjust="spacingAndGlyphs">O</text>
<text x="433.3" y="28.9" font-size="15.4" fill="#089981" font-weight="normal" textLength="52.1" lengthAdjust="spacingAndGlyphs">1873.35</text>
<text x="493.6" y="28.9" font-size="15.4" fill="#131722" font-weight="normal" textLength="8.3" lengthAdjust="spacingAndGlyphs">H</text>
<text x="505.0" y="28.9" font-size="15.4" fill="#089981" font-weight="normal" textLength="52.3" lengthAdjust="spacingAndGlyphs">1875.43</text>
<text x="565.3" y="28.9" font-size="15.4" fill="#131722" font-weight="normal" textLength="7.3" lengthAdjust="spacingAndGlyphs">L</text>
<text x="575.2" y="28.9" font-size="15.4" fill="#089981" font-weight="normal" textLength="51.7" lengthAdjust="spacingAndGlyphs">1872.10</text>
<text x="635.6" y="28.9" font-size="15.4" fill="#131722" font-weight="normal" textLength="7.8" lengthAdjust="spacingAndGlyphs">C</text>
<text x="646.8" y="28.9" font-size="15.4" fill="#089981" font-weight="normal" textLength="51.7" lengthAdjust="spacingAndGlyphs">1874.59</text>
<text x="707.2" y="28.9" font-size="15.4" fill="#089981" font-weight="normal" textLength="36.8" lengthAdjust="spacingAndGlyphs">+1.24</text>
<text x="750.2" y="28.9" font-size="15.4" fill="#089981" font-weight="normal" textLength="57.4" lengthAdjust="spacingAndGlyphs">(+0.07%)</text>
<text x="814.2" y="28.9" font-size="15.4" fill="#131722" font-weight="normal" textLength="18.6" lengthAdjust="spacingAndGlyphs">Vol</text>
<text x="835.3" y="28.9" font-size="15.4" fill="#089981" font-weight="normal" textLength="46.7" lengthAdjust="spacingAndGlyphs">8.245K</text>
<rect x="89.8" y="39.5" width="69.7" height="25.8" rx="4" fill="#fff" stroke="#f23645" stroke-width="1"/>
<text x="98.2" y="57.8" font-size="16.3" fill="#f23645" font-weight="normal" textLength="52.7" lengthAdjust="spacingAndGlyphs">1874.54</text>
<text x="169.6" y="57.1" font-size="12.6" fill="#131722" font-weight="normal" textLength="10.9" lengthAdjust="spacingAndGlyphs">33</text>
<rect x="190.6" y="39.5" width="70.7" height="25.8" rx="4" fill="#fff" stroke="#2962ff" stroke-width="1"/>
<text x="199.8" y="57.8" font-size="16.3" fill="#2962ff" font-weight="normal" textLength="52.1" lengthAdjust="spacingAndGlyphs">1874.87</text>
<text x="98.9" y="694.7" font-size="15.6" fill="#131722" font-weight="normal" textLength="13.8" lengthAdjust="spacingAndGlyphs">19</text>
<text x="232.8" y="694.7" font-size="15.6" fill="#131722" font-weight="normal" textLength="15.5" lengthAdjust="spacingAndGlyphs">26</text>
<text x="484.4" y="694.7" font-size="15.6" fill="#131722" font-weight="normal" textLength="7.4" lengthAdjust="spacingAndGlyphs">9</text>
<text x="616.8" y="694.7" font-size="15.6" fill="#131722" font-weight="normal" textLength="14.3" lengthAdjust="spacingAndGlyphs">16</text>
<text x="751.5" y="694.7" font-size="15.6" fill="#131722" font-weight="normal" textLength="15.5" lengthAdjust="spacingAndGlyphs">23</text>
<text x="936.7" y="694.7" font-size="15.6" fill="#131722" font-weight="normal" textLength="25.1" lengthAdjust="spacingAndGlyphs">Feb</text>
<text x="1053.9" y="694.7" font-size="15.6" fill="#131722" font-weight="normal" textLength="8.5" lengthAdjust="spacingAndGlyphs">7</text>
<text x="1159.4" y="694.7" font-size="15.6" fill="#131722" font-weight="normal" textLength="14.5" lengthAdjust="spacingAndGlyphs">13</text>
<text x="1294.2" y="694.7" font-size="15.6" fill="#131722" font-weight="normal" textLength="16.1" lengthAdjust="spacingAndGlyphs">20</text>
<text x="339.8" y="694.7" font-size="15.6" fill="#131722" font-weight="bold" textLength="34.1" lengthAdjust="spacingAndGlyphs">2023</text>
<g stroke="#131722" stroke-width="1.3" fill="none" stroke-linecap="butt">
<circle cx="40.4" cy="688.4" r="4.9"/>
<line x1="46.00" y1="688.40" x2="48.70" y2="688.40"/>
<line x1="44.36" y1="692.36" x2="46.27" y2="694.27"/>
<line x1="40.40" y1="694.00" x2="40.40" y2="696.70"/>
<line x1="36.44" y1="692.36" x2="34.53" y2="694.27"/>
<line x1="34.80" y1="688.40" x2="32.10" y2="688.40"/>
<line x1="36.44" y1="684.44" x2="34.53" y2="682.53"/>
<line x1="40.40" y1="682.80" x2="40.40" y2="680.10"/>
<line x1="44.36" y1="684.44" x2="46.27" y2="682.53"/>
</g>
<circle cx="106.7" cy="645.9" r="18" fill="#fff" stroke="#e6dccb" stroke-width="1.4"/>
<g fill="#131722">
<path d="M94.8 641.3 H105.9 V652.5 H99.7 V645.2 H94.8 Z"/>
<circle cx="108.6" cy="642.9" r="1.75"/>
<path d="M113.4 641.3 H119.2 L114.2 652.5 H108.6 Z"/>
</g>
<circle cx="1063.6" cy="656.6" r="12.6" fill="#fdf5e9"/>
<circle cx="1063.6" cy="656.6" r="11.1" fill="#fdf5e9" stroke="#9c27b0" stroke-width="1.6"/>
<path d="M1067.3 651.0 L1059.4 657.3 L1064.4 657.3 L1060.2 662.5 L1068.3 656.0 L1063.3 656.0 Z" fill="#9c27b0" stroke="#9c27b0" stroke-width="0.9" stroke-linejoin="round"/>
</svg>
</body></html>
